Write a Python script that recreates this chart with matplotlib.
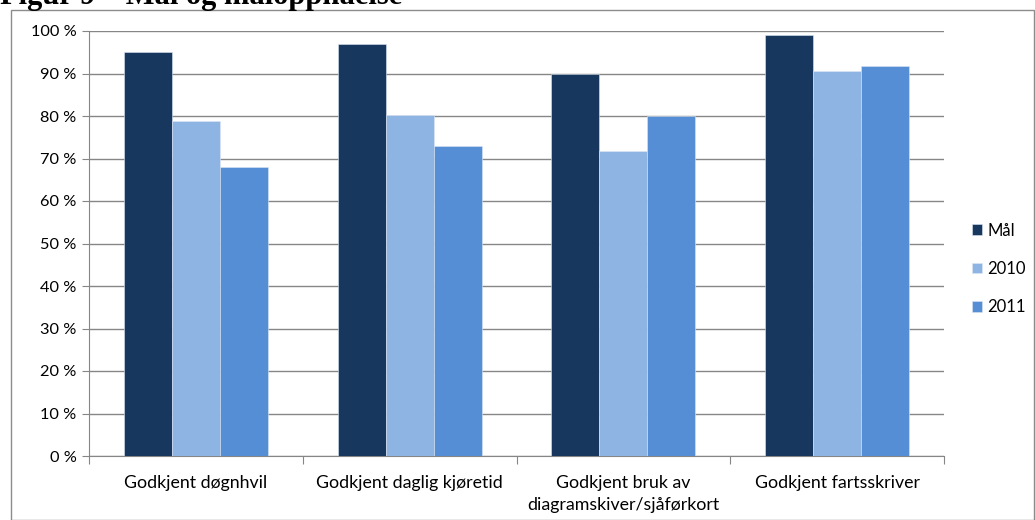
import matplotlib
matplotlib.use("Agg")
import matplotlib.pyplot as plt
from matplotlib.patches import Rectangle
from matplotlib.ticker import FuncFormatter, FixedLocator, NullFormatter
import numpy as np

categories = ["Godkjent døgnhvil", "Godkjent daglig kjøretid",
              "Godkjent bruk av\ndiagramskiver/sjåførkort", "Godkjent fartsskriver"]
series_names = ["Mål", "2010", "2011"]
maal = [95, 97, 90, 99]
aar_2010 = [78.8, 80.2, 71.8, 90.7]
aar_2011 = [68.0, 72.9, 80.0, 91.8]
colors = ["#17375E", "#8EB4E3", "#558ED5"]
yticks = list(range(0, 101, 10))

plt.rcParams['font.family'] = ['Lato', 'DejaVu Sans']

W, H = 1035, 520
fig = plt.figure(figsize=(W / 100, H / 100), dpi=100)

# chart frame
fig.patches.append(Rectangle((11 / W, 0), (W - 11) / W - 0.0005, 1 - 10 / H,
                             transform=fig.transFigure, fill=False,
                             edgecolor="#8c8c8c", linewidth=1.0))
fig.text(0 / W, 1 - 4 / H, "Figur 9 – Mål og måloppnåelse", family="Liberation Serif",
         fontweight="bold", fontsize=22, ha="left", va="baseline")

ax = fig.add_axes([89 / W, 1 - 456 / H, (944 - 89) / W, (456 - 31) / H])

x = np.arange(len(categories))
bw = 48 / 213.75
for i, (name, vals) in enumerate(zip(series_names, [maal, aar_2010, aar_2011])):
    ax.bar(x + (i - 1) * bw, vals, width=bw, color=colors[i], label=name,
           edgecolor="#dce6f2", linewidth=0.4, zorder=3)

ax.set_xlim(-0.5, len(categories) - 0.5)
ax.set_ylim(0, 100)
ax.set_yticks(yticks)
ax.yaxis.set_major_formatter(FuncFormatter(lambda v, p: f"{int(v)} %"))
ax.grid(axis="y", color="#868686", linewidth=1.0, zorder=0)
ax.tick_params(axis="y", length=5, color="#868686", labelsize=11.8, pad=4)

ax.xaxis.set_major_locator(FixedLocator(np.arange(-0.5, len(categories), 1.0)))
ax.xaxis.set_major_formatter(NullFormatter())
ax.xaxis.set_minor_locator(FixedLocator(x))
ax.set_xticklabels(categories, minor=True, linespacing=1.45)
ax.tick_params(axis="x", which="major", length=6, color="#868686")
ax.tick_params(axis="x", which="minor", length=0, labelsize=12.8, pad=14)

for s in ["top", "right"]:
    ax.spines[s].set_visible(False)
for s in ["left", "bottom"]:
    ax.spines[s].set_color("#868686")

leg = ax.legend(loc="center left", bbox_to_anchor=(1.015, 0.44), frameon=False,
                fontsize=12.0, handlelength=0.6, handleheight=0.6,
                handletextpad=0.35, labelspacing=1.35)

fig.savefig("out.png", dpi=100)
